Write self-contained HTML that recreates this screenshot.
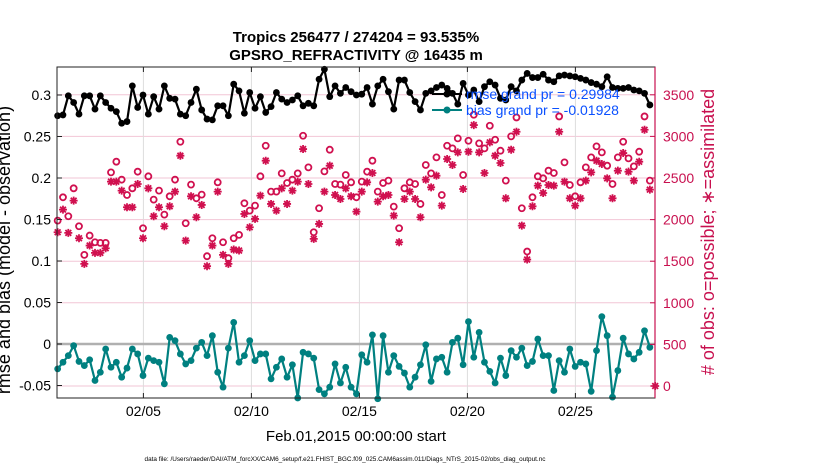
<!DOCTYPE html>
<html><head><meta charset="utf-8"><style>
body{margin:0;background:#fff;}
svg{display:block;font-family:"Liberation Sans",sans-serif;}
</style></head><body>
<svg id="chart" width="830" height="470" viewBox="0 0 830 470" xmlns="http://www.w3.org/2000/svg">
<text x="356" y="42" text-anchor="middle" font-size="15" font-weight="bold">Tropics 256477 / 274204 = 93.535%</text>
<text x="356" y="60" text-anchor="middle" font-size="15" font-weight="bold">GPSRO_REFRACTIVITY @ 16435 m</text>
<g id="grid"></g>
<g id="marks"></g>
<rect x="57" y="67" width="598" height="331" fill="none" stroke="#222" stroke-width="1"/>
<line x1="655" y1="67" x2="655" y2="398" stroke="#c8104f" stroke-width="1.2"/>
<g id="axes"></g>
<g>
<line x1="432" y1="94" x2="462" y2="94" stroke="#000" stroke-width="2"/>
<circle cx="447" cy="94" r="3.5" fill="#000"/>
<text x="466" y="99" font-size="14" fill="#0a50ff">rmse grand pr = 0.29984</text>
<line x1="432" y1="110" x2="462" y2="110" stroke="#008080" stroke-width="2"/>
<circle cx="447" cy="110" r="3.5" fill="#008080"/>
<text x="466" y="115" font-size="14" fill="#0a50ff">bias grand pr = -0.01928</text>
</g>
<text x="356" y="441" text-anchor="middle" font-size="15">Feb.01,2015 00:00:00 start</text>
<text transform="translate(10,250) rotate(-90)" text-anchor="middle" font-size="18">rmse and bias (model - observation)</text>
<text transform="translate(714,232) rotate(-90)" text-anchor="middle" font-size="18" fill="#c8104f"># of obs: o=possible; ∗=assimilated</text>
<text x="345" y="461" text-anchor="middle" font-size="6.4">data file: /Users/raeder/DAI/ATM_forcXX/CAM6_setup/f.e21.FHIST_BGC.f09_025.CAM6assim.011/Diags_NTrS_2015-02/obs_diag_output.nc</text>
</svg>
<script>
const rmseValues=[0.275,0.276,0.299,0.291,0.277,0.299,0.299,0.283,0.299,0.291,0.284,0.280,0.266,0.268,0.311,0.285,0.300,0.277,0.298,0.283,0.311,0.296,0.295,0.277,0.275,0.291,0.307,0.282,0.271,
0.270,0.287,0.287,0.275,0.313,0.305,0.278,0.303,0.284,0.298,0.279,0.286,0.303,0.295,0.291,0.294,0.299,0.287,0.290,0.287,0.319,0.331,0.298,0.311,0.302,0.309,0.304,0.300,
0.301,0.309,0.289,0.311,0.319,0.304,0.283,0.318,0.318,0.303,0.292,0.282,0.302,0.305,0.309,0.312,0.308,0.302,0.289,0.314,0.300,0.306,0.292,0.310,0.316,0.312,0.296,0.294,
0.310,0.305,0.318,0.326,0.321,0.321,0.325,0.318,0.316,0.323,0.324,0.323,0.322,0.320,0.318,0.315,0.313,0.310,0.322,0.309,0.308,0.308,0.309,0.306,0.305,0.302,0.288,null];
const biasValues=[-0.030,-0.022,-0.014,-0.002,-0.021,-0.026,-0.019,-0.044,-0.034,-0.006,-0.028,-0.022,-0.040,-0.029,-0.006,-0.012,-0.038,-0.017,-0.020,-0.022,-0.048,0.008,0.004,-0.012,-0.024,-0.020,-0.005,0.002,-0.014,
0.010,-0.034,-0.052,-0.005,0.026,-0.022,-0.014,0.004,-0.020,-0.012,-0.012,-0.042,-0.028,-0.018,-0.040,-0.025,-0.065,-0.010,-0.012,-0.017,-0.055,-0.060,-0.052,-0.024,-0.047,-0.028,-0.052,-0.060,
-0.013,-0.022,0.011,-0.066,0.010,-0.034,-0.014,-0.027,-0.035,-0.052,-0.040,-0.025,-0.001,-0.045,-0.018,-0.016,-0.034,0.002,0.007,-0.025,0.027,-0.016,0.014,-0.022,-0.033,-0.047,-0.017,-0.038,
-0.008,-0.016,-0.005,-0.026,-0.021,0.006,-0.014,-0.014,-0.056,-0.020,-0.034,-0.006,-0.027,-0.022,-0.024,-0.057,-0.008,0.033,0.010,-0.064,-0.032,0.007,-0.012,-0.018,-0.010,0.016,-0.004,null];
const possibleCounts=[1988,2268,2040,2376,1920,1576,1808,1728,1720,1720,2568,2696,2480,2296,2376,2576,1896,2520,2240,2348,2060,2280,2480,2936,1956,2420,2256,2300,1560,
1776,2448,1728,1536,1776,1816,2196,2108,2168,2520,2888,2336,2336,2556,2440,2480,2556,3008,2628,1848,2136,2580,2840,2428,2420,2536,2448,2268,
2456,2576,2708,2336,2440,2468,2156,1896,2376,2448,2428,2188,2656,2556,2748,2296,2888,2856,2976,2536,2948,3260,2916,2856,3128,2960,2828,2468,
3000,3228,2136,1616,2268,2520,2496,2588,2560,3240,2688,2416,2280,2448,2628,2748,2880,2808,2648,2428,2748,2936,2736,2640,2816,3240,2468,null];
const assimilatedCounts=[1848,2120,1840,2228,1776,1468,1688,1600,1600,1656,2456,2456,2348,2148,2148,2428,1776,2376,2040,2148,1920,2160,2336,2768,1748,2280,2028,2176,1440,
1688,2336,1576,1468,1640,1628,2068,1908,2008,2288,2708,2188,2108,2376,2188,2348,2456,2848,2428,1768,1948,2336,2648,2296,2248,2376,2280,2096,
2336,2448,2560,2216,2280,2296,2048,1728,2248,2336,2248,2028,2480,2388,2528,2168,2728,2656,2808,2368,2816,3136,2808,2560,2928,2768,2680,2256,
2840,3056,1928,1520,2160,2408,2320,2416,2408,3056,2456,2256,2168,2256,2468,2568,2708,2668,2496,2256,2588,2800,2576,2468,2696,3080,2360,0];
const leftTicks=[-0.05,0,0.05,0.1,0.15,0.2,0.25,0.3];
const leftTickLabels=["-0.05","0","0.05","0.1","0.15","0.2","0.25","0.3"];
const rightTicks=[0,500,1000,1500,2000,2500,3000,3500];
const dateTickDays=[4,9,14,19,24];
const dateTickLabels=["02/05","02/10","02/15","02/20","02/25"];
const startDay=0.03, stepDay=0.247;

const NS="http://www.w3.org/2000/svg";
const X0=57,X1=655,Y0=67,Y1=398,DMAX=(655-57)/21.6;
const xDay=d=>X0+d*(X1-X0)/DMAX;
const yL=v=>344-v*830;
const yR=c=>386-c*0.0832;
function mk(tag,attrs,parent){const e=document.createElementNS(NS,tag);for(const k in attrs)e.setAttribute(k,attrs[k]);parent.appendChild(e);return e;}
const grid=document.getElementById('grid'),marks=document.getElementById('marks'),axes=document.getElementById('axes');
rightTicks.forEach(c=>{const y=yR(c);if(y<Y0||y>Y1)return;
 const l=mk('line',{x1:X0,x2:X1,y1:y,y2:y,stroke:'#f2c6d6','stroke-width':1},grid);
 
 const t=mk('line',{x1:X1-5,x2:X1,y1:y,y2:y,stroke:'#c8104f'},axes);
 
 const tx=mk('text',{x:X1+8,y:y+5,'font-size':14,fill:'#c8104f'},axes);tx.textContent=c;
 });
dateTickDays.forEach((d,i)=>{const x=xDay(d);
 const l=mk('line',{x1:x,x2:x,y1:Y0,y2:Y1,stroke:'#dcdcdc','stroke-width':1},grid);
 
 mk('line',{x1:x,x2:x,y1:Y1,y2:Y1-5,stroke:'#222'},axes);
 mk('line',{x1:x,x2:x,y1:Y0,y2:Y0+5,stroke:'#222'},axes);
 const tx=mk('text',{x:x,y:416,'font-size':14,'text-anchor':'middle'},axes);tx.textContent=dateTickLabels[i];
 });
leftTicks.forEach((v,i)=>{const y=yL(v);
 mk('line',{x1:X0,x2:X0+5,y1:y,y2:y,stroke:'#222'},axes);
 const tx=mk('text',{x:X0-6,y:y+5,'font-size':14,'text-anchor':'end'},axes);tx.textContent=leftTickLabels[i];
 });
const zl=mk('line',{x1:X0,x2:X1,y1:yL(0),y2:yL(0),stroke:'#b0b0b0','stroke-width':2.5},grid);

const xt=i=>xDay(startDay+i*stepDay);
possibleCounts.forEach((c,i)=>{if(c===null)return;
 const e=mk('circle',{cx:xt(i),cy:yR(c),r:3,fill:'none',stroke:'#d0104f','stroke-width':1.8},marks);
 });
assimilatedCounts.forEach((c,i)=>{if(c===null)return;
 const x=xt(i),y=yR(c),r=4,q=2.9;
 const d=`M${x-r},${y}H${x+r}M${x},${y-r}V${y+r}M${x-q},${y-q}L${x+q},${y+q}M${x-q},${y+q}L${x+q},${y-q}`;
 const e=mk('path',{d:d,stroke:'#d0104f','stroke-width':1.8},marks);
 });
function series(vals,color,name){
 let d='';vals.forEach((v,i)=>{if(v===null)return;d+=(d?'L':'M')+xt(i).toFixed(1)+','+yL(v).toFixed(1);});
 const p=mk('path',{d:d,fill:'none',stroke:color,'stroke-width':2.2,'stroke-linejoin':'round'},marks);
 
 vals.forEach((v,i)=>{if(v===null)return;
  const c=mk('circle',{cx:xt(i),cy:yL(v),r:3.4,fill:color},marks);
  });
}
series(biasValues,'#008080','bias');
series(rmseValues,'#000000','rmse');
</script>
</body></html>
